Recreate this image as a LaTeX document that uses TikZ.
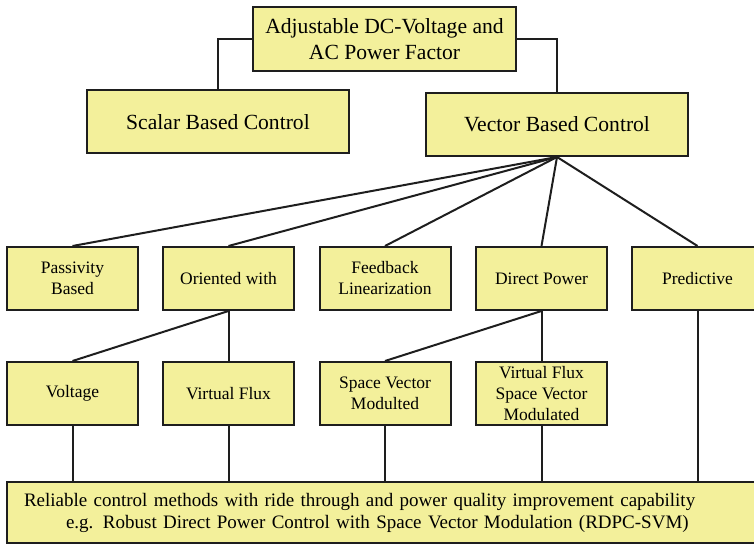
\documentclass[tikz,border=0pt]{standalone}
\usepackage{fontspec}
\setmainfont{Liberation Serif}
\definecolor{boxfill}{RGB}{243,240,155}
\definecolor{boxline}{RGB}{30,30,30}

\begin{document}
\begin{tikzpicture}[x=1pt,y=-1pt,
    box/.style={draw=boxline,line width=2pt,fill=boxfill,inner sep=2pt,align=center},
    bigbox/.style={box,minimum width=262pt,minimum height=63pt,font=\fontsize{21.6}{26}\selectfont},
    smallbox/.style={box,minimum width=131pt,minimum height=63pt,font=\fontsize{17.5}{21}\selectfont},
    link/.style={draw=boxline,line width=2pt}]
    \useasboundingbox (0,0) rectangle (754,545);
    \clip (0,0) rectangle (754,545);

    % top levels
    \node[bigbox,minimum width=263pt,minimum height=64pt] (top) at (384.5,39) {Adjustable DC-Voltage and\\AC Power Factor};
    \node[bigbox] (scalar) at (218,122) {Scalar Based Control};
    \node[bigbox] (vector) at (557,124.5) {Vector Based Control};

    % second row
    \node[smallbox] (passivity) at (72.5,278.5) {Passivity\\Based};
    \node[smallbox] (oriented) at (228.5,278.5) {Oriented with};
    \node[smallbox] (feedback) at (385,278.5) {Feedback\\Linearization};
    \node[smallbox] (direct) at (541.5,278.5) {Direct Power};
    \node[smallbox] (predictive) at (697.5,278.5) {Predictive};

    % third row
    \node[smallbox] (voltage) at (72.5,393.5) {Voltage};
    \node[smallbox] (vflux) at (228.5,393.5) {Virtual Flux};
    \node[smallbox] (svm) at (385,393.5) {Space Vector\\Modulted};
    \node[smallbox] (vfsvm) at (541.5,393.5) {Virtual Flux\\Space Vector\\Modulated};

    % bottom
    \node[box,minimum width=756pt,minimum height=61pt,text width=722pt,align=left,
          font=\fontsize{19}{22}\selectfont] (reliable) at (385,512.5)
          {Reliable control methods with ride through and power quality improvement capability\\
           \hspace*{42pt}e.g. Robust Direct Power Control with Space Vector Modulation (RDPC-SVM)};

    \draw[link] (top.west) -| (scalar.north);
    \draw[link] (top.east) -| (vector.north);
    \foreach \n in {passivity,oriented,feedback,direct,predictive}
        \draw[link] (vector.south) -- (\n.north);
    \draw[link] (oriented.south) -- (voltage.north);
    \draw[link] (oriented.south) -- (vflux.north);
    \draw[link] (direct.south) -- (svm.north);
    \draw[link] (direct.south) -- (vfsvm.north);
    \foreach \n in {voltage,vflux,svm,vfsvm}
        \draw[link] (\n.south) -- (\n.south |- reliable.north);
    \draw[link] (predictive.south) -- (predictive.south |- reliable.north);
\end{tikzpicture}
\end{document}
